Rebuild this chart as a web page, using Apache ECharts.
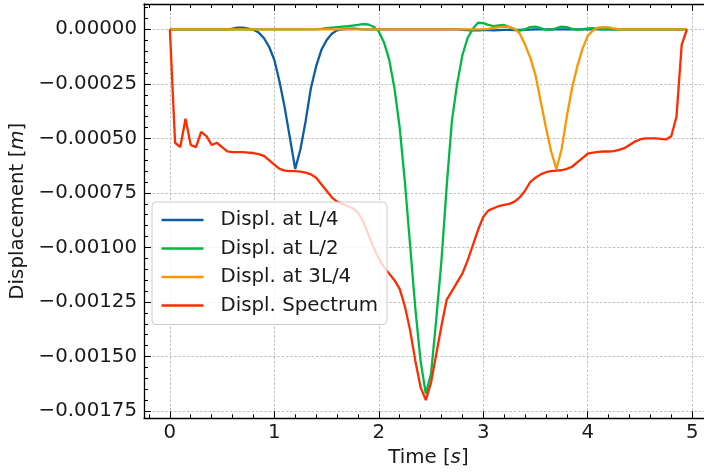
<!DOCTYPE html>
<html><head><meta charset="utf-8">
<script src="https://cdn.jsdelivr.net/npm/echarts@6/dist/echarts.min.js"></script>
<style>html,body{margin:0;padding:0;background:#fff}#c{width:704px;height:475px}</style>
</head><body><div id="c"></div>
<script>
const time = [0,0.05,0.1,0.15,0.2,0.25,0.3,0.35,0.4,0.45,0.5,0.55,0.6,0.65,0.7,0.75,0.8,0.85,0.9,0.95,
1,1.05,1.1,1.15,1.2,1.25,1.3,1.35,1.4,1.45,1.5,1.55,1.6,1.65,1.7,1.75,1.8,1.85,1.9,1.95,
2,2.05,2.1,2.15,2.2,2.25,2.3,2.35,2.4,2.45,2.5,2.55,2.6,2.65,2.7,2.75,2.8,2.85,2.9,2.95,
3,3.05,3.1,3.15,3.2,3.25,3.3,3.35,3.4,3.45,3.5,3.55,3.6,3.65,3.7,3.75,3.8,3.85,3.9,3.95,
4,4.05,4.1,4.15,4.2,4.25,4.3,4.35,4.4,4.45,4.5,4.55,4.6,4.65,4.7,4.75,4.8,4.85,4.9,4.95];

const dispL4 = [0,0,0,0,0,0,0,0,0,0, 0,0,0.000003,0.000008,0.000008,0.000003,-0.000002,-0.000015,-0.00004,-0.00008,
-0.00014,-0.00024,-0.00036,-0.0005,-0.00064,-0.00055,-0.00042,-0.00027,-0.00017,-0.000095,
-0.00005,-0.00002,-0.000005,0,0.000002,0.000003,0.000002,0,0,0,
0,0,0,0,0,0,0,0,0,0, 0,0,0,0,0,0,-0.000002,-0.000004,-0.000005,-0.000005,
-0.000004,-0.000004,-0.000005,-0.000004,-0.000003,-0.000003,-0.000004,-0.000003,-0.000002,-0.000001,
0,0,0,0,0,0,0,0,0,0, 0,0,0,0,0,0,0,0,0,0, 0,0,0,0,0,0,0,0,0,0];

const dispL2 = [0,0,0,0,0,0,0,0,0,0, 0,0,0,0,0,0,0,0,0,0, 0,0,0,0,0,0,0,0,0,0.000002,
0.000005,0.000008,0.00001,0.000012,0.000014,0.000017,0.00002,0.000024,0.000022,0.000012,
-0.00001,-0.00006,-0.00014,-0.00027,-0.00045,-0.0007,-0.00099,-0.00128,-0.00152,-0.00167,
-0.00158,-0.00133,-0.00106,-0.00072,-0.00042,-0.00025,-0.00012,-0.00004,0.000002,0.00003,
0.000028,0.00002,0.000015,0.000018,0.00002,0.00001,0,-0.000006,0,0.00001,
0.000012,0.000005,-0.000002,-0.000003,0.000005,0.000012,0.00001,0.000002,-0.000003,0,
0.000004,0.000005,0.000002,0,0,0,0,0,0,0, 0,0,0,0,0,0,0,0,0,0];

const disp3L4 = [0,0,0,0,0,0,0,0,0,0, 0,0,0,0,0,0,0,0,0,0, 0,0,0,0,0,0,0,0,0,0,
0,0,0,0,0,0,0,0,0,0, 0,0,0,0,0,0,0,0,0,0, 0,0,0,0,0,0,0,0,0,0,
0,0.000002,0.000006,0.00001,0.000012,0.00001,0.000002,-0.00002,-0.00007,-0.00013,
-0.00021,-0.00033,-0.00045,-0.00056,-0.00064,-0.00055,-0.0004,-0.00027,-0.00017,-0.00009,
-0.00003,-0.000005,0.000008,0.00001,0.000009,0.000004,0,0,0,0, 0,0,0,0,0,0,0,0,0,0];

const dispSpec = [0,-0.00052,-0.00054,-0.00041,-0.00053,-0.00054,-0.00047,-0.00049,-0.00053,-0.00052,
-0.00054,-0.00056,-0.000563,-0.000563,-0.000563,-0.000565,-0.000567,-0.000572,-0.00058,-0.0006,
-0.00062,-0.00064,-0.000648,-0.00065,-0.00065,-0.000652,-0.000657,-0.000665,-0.00068,-0.00071,
-0.00074,-0.00077,-0.00079,-0.0008,-0.00081,-0.00082,-0.00084,-0.00088,-0.00094,-0.001,
-0.00105,-0.00109,-0.00112,-0.00115,-0.00119,-0.00127,-0.00138,-0.00152,-0.00164,-0.0017,
-0.00162,-0.00149,-0.00136,-0.00124,-0.0012,-0.00116,-0.00112,-0.00106,-0.00099,-0.00092,
-0.00086,-0.00083,-0.00082,-0.00081,-0.000805,-0.0008,-0.00079,-0.00077,-0.00074,-0.0007,
-0.00068,-0.000665,-0.000655,-0.00065,-0.000648,-0.000646,-0.00064,-0.00063,-0.00061,-0.00059,
-0.00057,-0.000565,-0.000562,-0.00056,-0.00056,-0.000558,-0.000553,-0.000545,-0.00053,-0.000515,
-0.000505,-0.0005,-0.0005,-0.0005,-0.000502,-0.000505,-0.00049,-0.0004,-0.00007,0];

const seriesNames = ['Displ. at L/4','Displ. at L/2','Displ. at 3L/4','Displ. Spectrum'];
const seriesColors = ['#0C5DA5','#00B945','#FF9500','#FF2C00'];
const xMajor = [0,1,2,3,4,5];
const xMinor = [-0.2,0.2,0.4,0.6,0.8,1.2,1.4,1.6,1.8,2.2,2.4,2.6,2.8,3.2,3.4,3.6,3.8,4.2,4.4,4.6,4.8];
const yMajor = [0,-0.00025,-0.0005,-0.00075,-0.001,-0.00125,-0.0015,-0.00175];
const yMinor = [0.0001,0.00005,-0.00005,-0.0001,-0.00015,-0.0002,-0.0003,-0.00035,-0.0004,-0.00045,
-0.00055,-0.0006,-0.00065,-0.0007,-0.0008,-0.00085,-0.0009,-0.00095,-0.00105,-0.0011,-0.00115,-0.0012,
-0.0013,-0.00135,-0.0014,-0.00145,-0.00155,-0.0016,-0.00165,-0.0017];

const FONT = 'DejaVu Sans';
const FS = 19.8;
const TXT = '#1a1a1a';
const XMIN = -0.2475, XMAX = 5.1975, YMIN = -0.001783, YMAX = 0.000116;

const chart = echarts.init(document.getElementById('c'), null, {renderer: 'canvas'});

function xAx(pos, major, showLabel) {
  return {
    type: 'value', position: pos, min: XMIN, max: XMAX,
    axisLine: {show: major, onZero: false, lineStyle: {color: '#000', width: 1.3}},
    axisTick: {show: true, inside: true, length: major ? 7 : 4, lineStyle: {color: '#000', width: 1},
      customValues: major ? xMajor : xMinor},
    axisLabel: {show: showLabel, customValues: xMajor, fontFamily: FONT, fontSize: FS, color: TXT, margin: 5},
    splitLine: {show: major && showLabel, lineStyle: {color: '#b0b0b0', width: 0.8, type: [2.5, 1.8]}},
    minorTick: {show: false}
  };
}
function yAx(pos, major, showLabel) {
  return {
    type: 'value', position: pos, min: YMIN, max: YMAX,
    axisLine: {show: major, onZero: false, lineStyle: {color: '#000', width: 1.3}},
    axisTick: {show: true, inside: true, length: major ? 7 : 4, lineStyle: {color: '#000', width: 1},
      customValues: major ? yMajor : yMinor},
    axisLabel: {show: showLabel, customValues: yMajor, fontFamily: FONT, fontSize: FS, color: TXT, margin: 7,
      formatter: v => (v < -1e-12 ? '\u2212' : '') + Math.abs(v).toFixed(5)},
    splitLine: {show: major && showLabel, lineStyle: {color: '#b0b0b0', width: 0.8, type: [2.5, 1.8]}},
    minorTick: {show: false}
  };
}

const xs = xAx('bottom', true, true);
xs.name = 'Time [{i|s}]';
xs.nameLocation = 'middle';
xs.nameGap = 29;
xs.nameTextStyle = {fontFamily: FONT, fontSize: FS, color: TXT,
  rich: {i: {fontFamily: FONT, fontStyle: 'italic', fontSize: FS, color: TXT}}};
const ys = yAx('left', true, true);
ys.name = 'Displacement [{i|m}]';
ys.nameLocation = 'middle';
ys.nameGap = 109;
ys.nameRotate = 90;
ys.nameTextStyle = {fontFamily: FONT, fontSize: FS, color: TXT,
  rich: {i: {fontFamily: FONT, fontStyle: 'italic', fontSize: FS, color: TXT}}};

const allY = [dispL4, dispL2, disp3L4, dispSpec];

chart.setOption({
  animation: false,
  backgroundColor: '#fff',
  grid: {left: 144, top: 4, width: 568.8, height: 414.3, containLabel: false, outerBoundsMode: 'none'},
  xAxis: [xs, xAx('bottom', false, false), xAx('top', true, false), xAx('top', false, false)],
  yAxis: [ys, yAx('left', false, false), yAx('right', true, false), yAx('right', false, false)],
  legend: {
    orient: 'vertical', left: 152, top: 202,
    data: seriesNames,
    icon: 'rect', itemWidth: 42, itemHeight: 2.5, itemGap: 8.5,
    padding: [8, 9, 9, 9.5],
    backgroundColor: 'rgba(255,255,255,0.8)',
    borderColor: '#cccccc', borderWidth: 1, borderRadius: 4,
    textStyle: {fontFamily: FONT, fontSize: FS, color: TXT, lineHeight: 20, padding: [0, 0, 0, 12]}
  },
  series: allY.map((arr, k) => ({
    name: seriesNames[k], type: 'line', xAxisIndex: 0, yAxisIndex: 0,
    data: time.map((t, i) => [t, arr[i]]),
    showSymbol: false, symbol: 'none', color: seriesColors[k],
    lineStyle: {color: seriesColors[k], width: 2.3},
    z: 2 + k * 0.1
  }))
});
</script></body></html>
